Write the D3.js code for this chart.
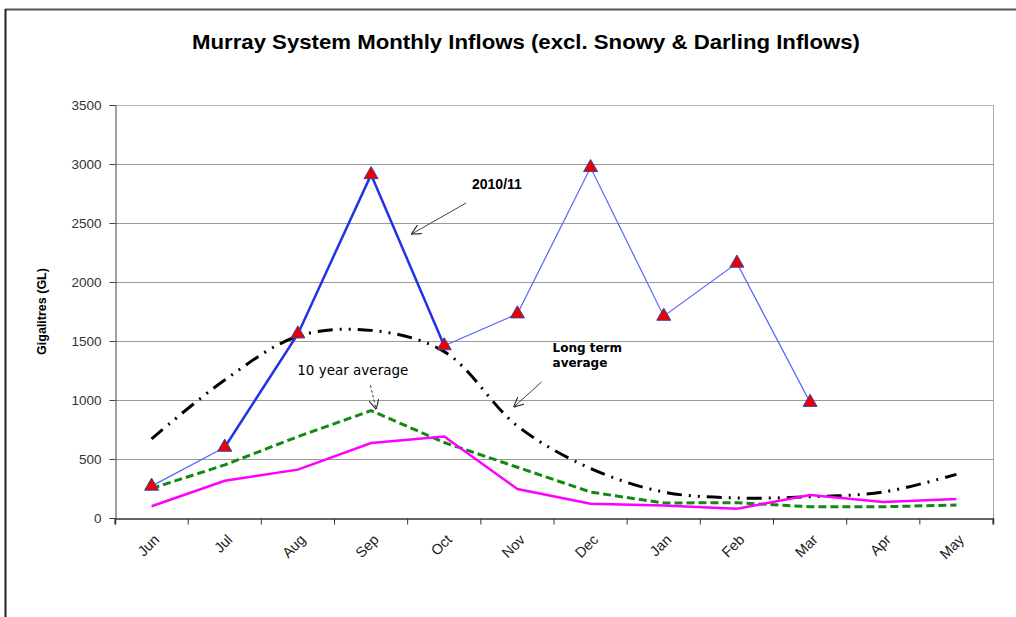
<!DOCTYPE html>
<html>
<head>
<meta charset="utf-8">
<script src="https://cdn.jsdelivr.net/npm/d3@7"></script>
<style>
    body { margin: 0; background: #fff; }
    svg { display: block; }
</style>
</head>
<body>
<svg id="chart" width="1016" height="617"></svg>
<script>
// 数据
const months = ["Jun", "Jul", "Aug", "Sep", "Oct", "Nov", "Dec", "Jan", "Feb", "Mar", "Apr", "May"];
const inflows2010 = [270, 600, 1560, 2910, 1460, 1730, 2970, 1710, 2160, 980];
const longTermAvg = [670, 1170, 1540, 1590, 1410, 780, 420, 220, 170, 180, 220, 370];
const tenYearAvg = [250, 450, 690, 910, 640, 430, 220, 127, 130, 95, 95, 110];
const fourthSeries = [100, 315, 410, 635, 690, 245, 120, 105, 78, 195, 135, 160];
const yTicks = [0, 500, 1000, 1500, 2000, 2500, 3000, 3500];

const title = "Murray System Monthly Inflows (excl. Snowy & Darling Inflows)";

// 画布
const W = 1016, H = 617;
const margin = { top: 105, right: 23, bottom: 99, left: 115 };
const width = W - margin.left - margin.right;
const height = H - margin.top - margin.bottom;

const svg = d3.select("#chart");

// 外框
svg.append("line").attr("x1", 5).attr("x2", W).attr("y1", 9.5).attr("y2", 9.5)
    .attr("stroke", "#555").attr("stroke-width", 2);
svg.append("line").attr("x1", 5.5).attr("x2", 5.5).attr("y1", 9).attr("y2", H)
    .attr("stroke", "#222").attr("stroke-width", 2);

// 标题
svg.append("text")
    .attr("x", 526).attr("y", 49)
    .attr("text-anchor", "middle")
    .attr("font-family", "Liberation Sans, Arial, sans-serif")
    .attr("font-weight", "bold")
    .attr("font-size", 21)
    .attr("textLength", 668)
    .attr("lengthAdjust", "spacingAndGlyphs")
    .text(title);

const g = svg.append("g")
    .attr("transform", `translate(${margin.left},${margin.top})`);

// 比例尺
const x = d3.scaleBand().domain(months).range([0, width]);
const cx = m => x(m) + x.bandwidth() / 2;
const y = d3.scaleLinear().domain([0, 3500]).range([height, 0]);

// 网格线
g.append("g")
    .selectAll("line")
    .data(yTicks.filter(d => d > 0))
    .enter().append("line")
    .attr("x1", 0).attr("x2", width)
    .attr("y1", d => Math.round(y(d)) + 0.5).attr("y2", d => Math.round(y(d)) + 0.5)
    .attr("stroke", d => d === 3500 ? "#bbb" : "#999")
    .attr("stroke-width", 1);

// 右边框
g.append("line")
    .attr("x1", width + 0.5).attr("x2", width + 0.5)
    .attr("y1", 0).attr("y2", height + 5)
    .attr("stroke", "#aaa");

// 坐标轴
const yAxis = g.append("g")
    .attr("transform", "translate(0.5,0)")
    .call(d3.axisLeft(y).tickValues(yTicks).tickFormat(d3.format("d")).tickSize(6).tickPadding(8));
yAxis.select(".domain").attr("stroke", "#444");
yAxis.selectAll(".tick line").attr("stroke", "#444");
yAxis.selectAll("text")
    .attr("font-family", "Liberation Sans, Arial, sans-serif")
    .attr("font-size", 13.5).attr("fill", "#333");

const xAxis = g.append("g")
    .attr("transform", `translate(0,${height + 0.5})`)
    .call(d3.axisBottom(x).tickSize(6).tickFormat(""));
xAxis.select(".domain").attr("stroke", "#333").attr("stroke-width", 1.5);
xAxis.selectAll(".tick line")
    .attr("stroke", "#333")
    .attr("transform", `translate(${-x.bandwidth() / 2},0)`);
xAxis.append("line")
    .attr("x1", width).attr("x2", width).attr("y1", 0).attr("y2", 6)
    .attr("stroke", "#333");

// x 轴标签（旋转）
g.append("g")
    .selectAll("text")
    .data(months)
    .enter().append("text")
    .attr("transform", d => `translate(${cx(d) + 5},${height + 19}) rotate(-45)`)
    .attr("text-anchor", "end")
    .attr("dy", "0.35em")
    .attr("font-family", "Liberation Sans, Arial, sans-serif")
    .attr("font-size", 14.5)
    .attr("fill", "#222")
    .text(d => d);

// y 轴标题
svg.append("text")
    .attr("transform", `translate(46,${margin.top + height / 2}) rotate(-90)`)
    .attr("text-anchor", "middle")
    .attr("font-family", "Liberation Sans, Arial, sans-serif")
    .attr("font-weight", "bold")
    .attr("font-size", 12.5)
    .text("Gigalitres (GL)");

// 折线
const pts = arr => arr.map((v, i) => [cx(months[i]), y(v)]);
const straight = d3.line();
const smooth = d3.line().curve(d3.curveCatmullRom.alpha(0.5));

g.append("path")
    .attr("d", smooth(pts(longTermAvg)))
    .attr("fill", "none")
    .attr("stroke", "#000")
    .attr("stroke-width", 3)
    .attr("stroke-dasharray", "15,7,2,7,2,7");

g.append("path")
    .attr("d", straight(pts(tenYearAvg)))
    .attr("fill", "none")
    .attr("stroke", "#118a11")
    .attr("stroke-width", 3)
    .attr("stroke-dasharray", "8,4");

g.append("path")
    .attr("d", straight(pts(fourthSeries)))
    .attr("fill", "none")
    .attr("stroke", "#ff00ff")
    .attr("stroke-width", 2.5);

// 2010/11 系列：细线 + Jul-Oct 粗线
const bluePts = pts(inflows2010);
g.append("path")
    .attr("d", straight(bluePts))
    .attr("fill", "none")
    .attr("stroke", "#5566ff")
    .attr("stroke-width", 1.2);
g.append("path")
    .attr("d", straight(bluePts.slice(1, 5)))
    .attr("fill", "none")
    .attr("stroke", "#2233e6")
    .attr("stroke-width", 2.5);

g.append("g")
    .selectAll("path")
    .data(bluePts)
    .enter().append("path")
    .attr("transform", d => `translate(${d[0]},${d[1]})`)
    .attr("d", d3.symbol().type(d3.symbolTriangle).size(85))
    .attr("fill", "#ee0000")
    .attr("stroke", "#3344aa")
    .attr("stroke-width", 1);

// 注释
const defs = svg.append("defs");
defs.append("marker")
    .attr("id", "arrow")
    .attr("viewBox", "0 0 10 10")
    .attr("refX", 10).attr("refY", 5)
    .attr("markerWidth", 10).attr("markerHeight", 10)
    .attr("markerUnits", "userSpaceOnUse")
    .attr("orient", "auto")
    .append("path")
    .attr("d", "M0,0 L10,5 L0,10")
    .attr("fill", "none")
    .attr("stroke", "#333")
    .attr("stroke-width", 1.2);

const at = (m, off) => cx(m) + off * x.bandwidth();

function arrow(m1, o1, v1, m2, o2, v2, dash) {
    g.append("line")
        .attr("x1", at(m1, o1)).attr("y1", y(v1))
        .attr("x2", at(m2, o2)).attr("y2", y(v2))
        .attr("stroke", "#444").attr("stroke-width", 1)
        .attr("stroke-dasharray", dash || null)
        .attr("marker-end", "url(#arrow)");
}

g.append("text")
    .attr("x", at("Oct", 0.72)).attr("y", y(2790))
    .attr("text-anchor", "middle")
    .attr("font-family", "Liberation Sans, Arial, sans-serif")
    .attr("font-weight", "bold").attr("font-size", 14)
    .text("2010/11");
arrow("Oct", 0.3, 2670, "Sep", 0.55, 2405);

g.append("text")
    .attr("x", at("Aug", 0.75)).attr("y", y(1215))
    .attr("text-anchor", "middle")
    .attr("font-family", "DejaVu Sans, sans-serif")
    .attr("font-size", 13.5)
    .text("10 year average");
arrow("Sep", -0.01, 1127, "Sep", 0.07, 920, "3,2");

const lt = g.append("text")
    .attr("font-family", "DejaVu Sans, sans-serif")
    .attr("font-weight", "bold").attr("font-size", 12);
lt.append("tspan").attr("x", at("Nov", 0.48)).attr("y", y(1407)).text("Long term");
lt.append("tspan").attr("x", at("Nov", 0.48)).attr("y", y(1280)).text("average");
arrow("Nov", 0.33, 1153, "Nov", -0.05, 940);
</script>
</body>
</html>
